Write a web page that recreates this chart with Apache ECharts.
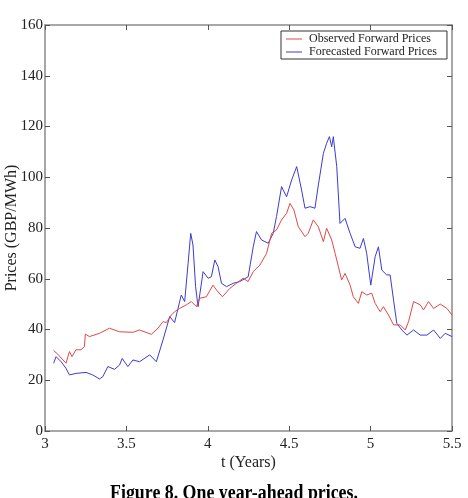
<!DOCTYPE html>
<html>
<head>
<meta charset="utf-8">
<script src="https://cdn.jsdelivr.net/npm/echarts@6/dist/echarts.min.js"></script>
<style>
  html, body { margin: 0; padding: 0; background: #fff; }
  #chart { width: 468px; height: 498px; }
</style>
</head>
<body>
<div id="chart"></div>
<script>
// 观测远期价格
const obsT = [3.053, 3.078, 3.129, 3.150, 3.166, 3.190, 3.221, 3.242, 3.248, 3.273, 3.335, 3.396,
  3.458, 3.540, 3.581, 3.653, 3.694, 3.725, 3.745, 3.776, 3.796, 3.827, 3.868, 3.899, 3.930, 3.950,
  3.991, 4.032, 4.053, 4.090, 4.135, 4.176, 4.217, 4.248, 4.279, 4.320, 4.361, 4.392, 4.422, 4.453,
  4.484, 4.505, 4.529, 4.556, 4.597, 4.617, 4.648, 4.679, 4.710, 4.730, 4.761, 4.782, 4.802, 4.822,
  4.843, 4.874, 4.894, 4.925, 4.946, 4.976, 5.007, 5.028, 5.059, 5.079, 5.110, 5.141, 5.182, 5.213,
  5.233, 5.264, 5.305, 5.325, 5.356, 5.387, 5.428, 5.469, 5.500]
const obsP = [31.7, 30.3, 26.7, 31.3, 29.3, 32.0, 32.0, 33.2, 38.2, 37.2, 38.5, 40.5,
  39.1, 38.9, 39.8, 38.1, 40.5, 43.1, 42.7, 45.7, 47.0, 48.3, 49.7, 51.0, 49.0, 52.3,
  52.9, 57.5, 55.6, 52.9, 56.2, 58.2, 60.2, 58.9, 62.8, 65.4, 70.0, 77.9, 79.2, 83.2,
  85.8, 89.7, 87.1, 80.5, 76.6, 77.9, 83.2, 80.5, 74.6, 79.9, 75.3, 70.0, 64.8, 59.5,
  62.1, 57.5, 52.9, 50.3, 54.9, 53.6, 54.3, 50.3, 47.0, 49.0, 45.7, 41.8, 41.8, 39.8,
  43.1, 51.0, 49.7, 47.7, 51.0, 48.3, 50.0, 48.3, 45.7]

// 预测远期价格
const fcT = [3.053, 3.068, 3.099, 3.129, 3.150, 3.191, 3.252, 3.293, 3.335, 3.355, 3.386, 3.427,
  3.458, 3.474, 3.509, 3.540, 3.581, 3.643, 3.684, 3.725, 3.766, 3.796, 3.837, 3.858, 3.879, 3.895,
  3.909, 3.925, 3.940, 3.971, 4.002, 4.022, 4.043, 4.063, 4.084, 4.115, 4.156, 4.197, 4.248, 4.279,
  4.299, 4.330, 4.371, 4.402, 4.422, 4.453, 4.484, 4.515, 4.546, 4.576, 4.597, 4.628, 4.658, 4.679,
  4.710, 4.730, 4.747, 4.761, 4.771, 4.792, 4.812, 4.843, 4.874, 4.905, 4.935, 4.956, 4.976, 5.001,
  5.028, 5.048, 5.069, 5.099, 5.120, 5.141, 5.161, 5.192, 5.223, 5.264, 5.305, 5.346, 5.387, 5.428,
  5.458, 5.500]
const fcP = [26.7, 29.3, 27.3, 24.7, 22.1, 22.7, 23.1, 22.1, 20.5, 21.4, 25.4, 24.3,
  26.0, 28.6, 25.4, 28.0, 27.3, 30.0, 27.3, 35.9, 45.1, 42.7, 53.6, 51.0, 66.1, 77.9,
  73.3, 56.9, 49.0, 62.8, 60.2, 60.8, 67.4, 64.8, 58.2, 56.9, 58.2, 58.9, 60.8, 72.6,
  78.6, 75.3, 74.0, 77.9, 84.5, 96.3, 92.3, 98.9, 104.2, 95.0, 87.8, 88.4, 87.8, 96.9,
  109.4, 113.4, 116.0, 112.0, 116.0, 104.2, 81.8, 83.8, 77.9, 72.6, 72.0, 75.9, 70.0, 57.5,
  68.7, 72.6, 63.4, 61.5, 61.5, 51.6, 42.4, 39.8, 37.8, 39.8, 37.8, 37.8, 39.8, 36.5,
  38.5, 37.2]

const xTicks = [3, 3.5, 4, 4.5, 5, 5.5]
const yTicks = [0, 20, 40, 60, 80, 100, 120, 140, 160]

const serif = 'Liberation Serif, Times New Roman, serif'
const boxColor = '#8a8a8a'

const zip = (ts, ps) => ts.map((t, i) => [t, ps[i]])

const baseAxis = {
  axisLine: { show: true, onZero: false, lineStyle: { color: boxColor, width: 1.5 } },
  axisTick: { show: true, inside: true, length: 5, lineStyle: { color: '#555' } },
  splitLine: { show: false }
}

const chart = echarts.init(document.getElementById('chart'))
chart.setOption({
  animation: false,
  backgroundColor: '#fff',
  grid: { left: 45, right: 16, top: 25, bottom: 67, outerBoundsMode: 'none', containLabel: false },
  legend: {
    left: 281,
    top: 31,
    orient: 'vertical',
    padding: [2, 10, 1, 5],
    itemGap: 1,
    itemWidth: 16,
    itemHeight: 1,
    icon: 'rect',
    backgroundColor: '#fff',
    borderColor: '#333',
    borderWidth: 1,
    borderRadius: 0,
    textStyle: { fontFamily: serif, fontSize: 12, color: '#222', padding: [0, 0, 0, 2] },
    data: ['Observed Forward Prices', 'Forecasted Forward Prices']
  },
  xAxis: [
    Object.assign({}, baseAxis, {
      type: 'value', min: xTicks[0], max: xTicks[xTicks.length - 1], interval: 0.5,
      position: 'bottom',
      name: 't (Years)', nameLocation: 'middle', nameGap: 24, nameMoveOverlap: false,
      nameTextStyle: { fontFamily: serif, fontSize: 16, color: '#222' },
      axisLabel: { fontFamily: serif, fontSize: 15, color: '#222', margin: 6 }
    }),
    Object.assign({}, baseAxis, {
      type: 'value', min: xTicks[0], max: xTicks[xTicks.length - 1], interval: 0.5,
      position: 'top', axisLabel: { show: false }
    })
  ],
  yAxis: [
    Object.assign({}, baseAxis, {
      type: 'value', min: yTicks[0], max: yTicks[yTicks.length - 1], interval: 20,
      position: 'left',
      name: 'Prices (GBP/MWh)', nameLocation: 'middle', nameGap: 25, nameMoveOverlap: false,
      nameTextStyle: { fontFamily: serif, fontSize: 16, color: '#222' },
      axisLabel: { fontFamily: serif, fontSize: 15, color: '#222', margin: 2 }
    }),
    Object.assign({}, baseAxis, {
      type: 'value', min: yTicks[0], max: yTicks[yTicks.length - 1], interval: 20,
      position: 'right', axisLabel: { show: false }
    })
  ],
  series: [
    {
      name: 'Observed Forward Prices',
      type: 'line',
      symbol: 'none',
      data: zip(obsT, obsP),
      lineStyle: { color: '#e04848', width: 1 },
      itemStyle: { color: '#e04848' },
      z: 3
    },
    {
      name: 'Forecasted Forward Prices',
      type: 'line',
      symbol: 'none',
      data: zip(fcT, fcP),
      lineStyle: { color: '#3c3cd0', width: 1 },
      itemStyle: { color: '#3c3cd0' },
      z: 2
    }
  ],
  graphic: [{
    type: 'text',
    left: 'center',
    top: 483,
    style: {
      text: 'Figure 8. One year-ahead prices.',
      fontFamily: serif,
      fontWeight: 'bold',
      fontSize: 21,
      fill: '#000'
    },
    scaleX: 0.85
  }]
})
</script>
</body>
</html>
